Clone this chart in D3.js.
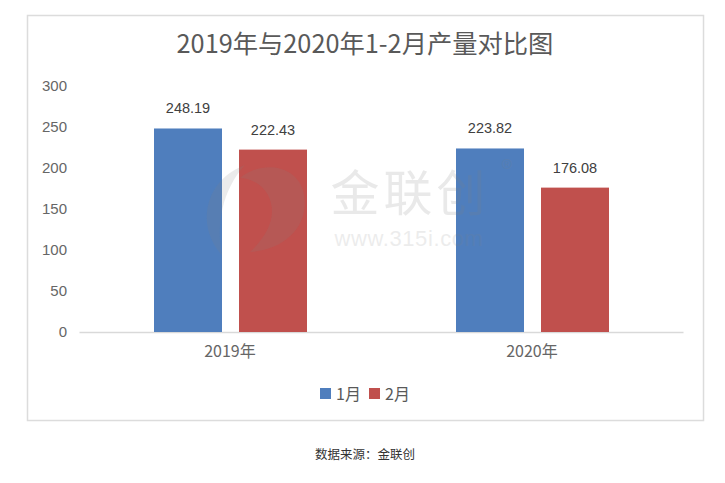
<!DOCTYPE html>
<html>
<head>
<meta charset="utf-8">
<script src="https://cdn.jsdelivr.net/npm/d3@7"></script>
<style>
  html, body { margin: 0; padding: 0; background: #fff; }
  svg { display: block; }
  text { font-family: "Noto Sans CJK SC", "Liberation Sans", sans-serif; }
</style>
</head>
<body>
<svg id="chart" width="725" height="483"></svg>
<script>
const years = ["2019年", "2020年"];
const months = ["1月", "2月"];
const janValues = [248.19, 223.82];
const febValues = [222.43, 176.08];
const yTicks = [0, 50, 100, 150, 200, 250, 300];
const monthColors = ["#4f7ebd", "#c0504d"];

const MARGIN = { top: 86, right: 42, bottom: 151, left: 79 };
const width = 725, height = 483;
const boundsWidth = width - MARGIN.left - MARGIN.right;
const boundsHeight = height - MARGIN.top - MARGIN.bottom;

const svg = d3.select("#chart");

// frame
svg.append("rect")
  .attr("x", 27.5).attr("y", 15.5)
  .attr("width", 676).attr("height", 405)
  .attr("fill", "#fff")
  .attr("stroke", "#dcdcdc")
  .attr("stroke-width", 1.5);

// title
svg.append("text")
  .attr("x", 365).attr("y", 53)
  .attr("text-anchor", "middle")
  .attr("font-size", 25.3)
  .attr("fill", "#595959")
  .text("2019年与2020年1-2月产量对比图");

const bounds = svg.append("g")
  .attr("transform", `translate(${MARGIN.left},${MARGIN.top})`);

const xScale = d3.scaleBand().domain(years).range([0, boundsWidth]);
const monthScale = d3.scaleBand().domain(months)
  .range([75, 228])
  .paddingInner(0.2);
const yScale = d3.scaleLinear().domain([0, 300]).range([boundsHeight, 0]);

// y axis, labels only
const yAxis = bounds.append("g")
  .call(d3.axisLeft(yScale).tickValues(yTicks).tickSize(0).tickPadding(12));
yAxis.select(".domain").remove();
yAxis.selectAll("text")
  .attr("font-size", 15)
  .style("font-family", '"Liberation Sans", sans-serif')
  .attr("fill", "#666");

// x axis
const xAxis = bounds.append("g")
  .attr("transform", `translate(0,${boundsHeight})`)
  .call(d3.axisBottom(xScale).tickSize(0).tickPadding(14));
xAxis.select(".domain").attr("stroke", "#d9d9d9").attr("stroke-width", 1.5);
xAxis.selectAll("text")
  .attr("font-size", 16)
  .attr("fill", "#666");

// bars
const rows = years.map((year, i) => ({
  year,
  values: [
    { month: months[0], value: janValues[i] },
    { month: months[1], value: febValues[i] }
  ]
}));
const colorScale = d3.scaleOrdinal().domain(months).range(monthColors);

const groups = bounds.selectAll(".year")
  .data(rows)
  .join("g")
  .attr("class", "year")
  .attr("transform", d => `translate(${xScale(d.year)},0)`);

groups.selectAll("rect")
  .data(d => d.values)
  .join("rect")
  .attr("x", d => monthScale(d.month))
  .attr("y", d => yScale(d.value))
  .attr("width", monthScale.bandwidth())
  .attr("height", d => boundsHeight - yScale(d.value))
  .attr("fill", d => colorScale(d.month));

groups.selectAll(".value")
  .data(d => d.values)
  .join("text")
  .attr("class", "value")
  .attr("x", d => monthScale(d.month) + monthScale.bandwidth() / 2)
  .attr("y", d => yScale(d.value) - 15)
  .attr("text-anchor", "middle")
  .attr("font-size", 14.5)
  .style("font-family", '"Liberation Sans", sans-serif')
  .attr("fill", "#404040")
  .text(d => d.value.toFixed(2));

// watermark, see-through so it only tints the bars
const mark = svg.append("g").attr("pointer-events", "none");
mark.append("path")
  .attr("d", "M245,165 C205,180 195,225 222,255 C216,225 222,190 245,165 Z")
  .attr("fill", "#808080").attr("opacity", 0.16);
mark.append("path")
  .attr("d", "M240,178 C262,160 295,165 303,190 C312,225 285,250 250,252 C268,235 278,215 268,195 C262,184 250,178 240,178 Z")
  .attr("fill", "#808080").attr("opacity", 0.16);
mark.append("text")
  .attr("x", 410).attr("y", 211)
  .attr("text-anchor", "middle")
  .attr("font-size", 49)
  .style("letter-spacing", "4px")
  .attr("fill", "#808080")
  .attr("opacity", 0.17)
  .text("金联创");
mark.append("text")
  .attr("x", 409).attr("y", 246)
  .attr("text-anchor", "middle")
  .attr("font-size", 22)
  .style("letter-spacing", "0.6px")
  .style("font-family", '"Liberation Sans", sans-serif')
  .attr("fill", "#808080")
  .attr("opacity", 0.14)
  .text("www.315i.com");
mark.append("text")
  .attr("x", 507).attr("y", 178)
  .attr("text-anchor", "middle")
  .attr("font-size", 24)
  .attr("fill", "#808080")
  .attr("opacity", 0.15)
  .text("®");

// legend
const legendX = d3.scalePoint().domain(months).range([320, 369]);
const legend = svg.selectAll(".legend")
  .data(months)
  .join("g")
  .attr("class", "legend")
  .attr("transform", d => `translate(${legendX(d)},388)`);
legend.append("rect")
  .attr("width", 11).attr("height", 11)
  .attr("fill", d => colorScale(d));
legend.append("text")
  .attr("x", 16).attr("y", 12)
  .attr("font-size", 16)
  .attr("fill", "#595959")
  .text(d => d);

// source
svg.append("text")
  .attr("x", 365).attr("y", 459)
  .attr("text-anchor", "middle")
  .attr("font-size", 12.5)
  .attr("fill", "#333")
  .text("数据来源：金联创");
</script>
</body>
</html>
